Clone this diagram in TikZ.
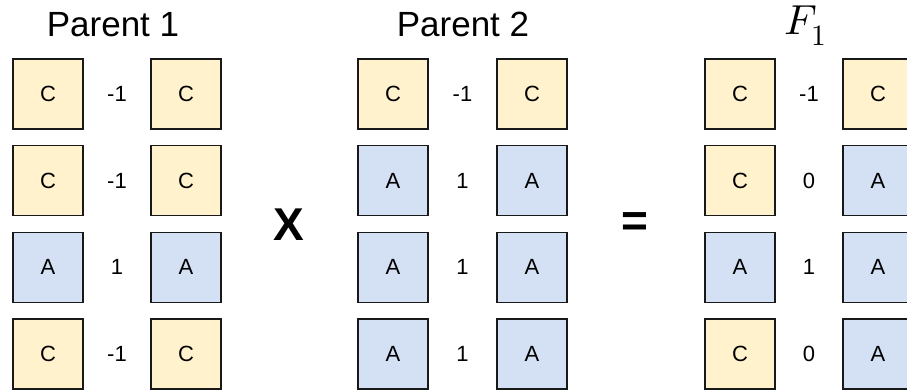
\documentclass[tikz,border=0pt]{standalone}
\usepackage{unicode-math}
\setmainfont{Liberation Sans}
\setmathfont{Latin Modern Math}
\definecolor{celly}{HTML}{FFF2CC}
\definecolor{cellb}{HTML}{D4E1F5}
\tikzset{
  cellbox/.style={draw=black!90, line width=1.5pt, minimum size=70pt, inner sep=0pt,
    font=\fontsize{22}{24}\selectfont},
  cellC/.style={cellbox, fill=celly},
  cellA/.style={cellbox, fill=cellb},
  score/.style={font=\fontsize{22}{24}\selectfont, inner sep=0pt},
  heading/.style={font=\fontsize{35}{38}\selectfont, anchor=base, inner sep=0pt},
  operator/.style={font=\fontsize{46}{50}\selectfont\bfseries, inner sep=0pt}
}
\begin{document}
\begin{tikzpicture}[x=1pt, y=1pt]
  \clip (0,0) rectangle (907,390);
  \fill[white] (0,0) rectangle (907,390);

  % column headings
  \node[heading] (h1) at (113,353.3) {Parent 1};
  \node[heading] (h2) at (463,353.3) {Parent 2};
  \node[font=\fontsize{42}{46}\selectfont, anchor=base, inner sep=0pt] (h3) at (806,355) {$F_1$};

  % each column: left cell, score, right cell per row
  \foreach \g/\xl/\xs/\xr/\rows in {
      p/48/117/186/{C/-1/C,C/-1/C,A/1/A,C/-1/C},
      q/393/462.5/532/{C/-1/C,A/1/A,A/1/A,A/1/A},
      f/740/809/878/{C/-1/C,C/0/A,A/1/A,C/0/A}} {
    \foreach \l/\s/\r [count=\i] in \rows {
      \pgfmathsetmacro{\yy}{296-86.67*(\i-1)}
      \node[cell\l] (\g l\i) at (\xl,\yy) {\l};
      \node[score] (\g s\i) at (\xs,\yy) {\s};
      \node[cell\r] (\g r\i) at (\xr,\yy) {\r};
    }
  }

  % operators between the columns
  \node[operator] (times) at (289,165) {X};
  \node[operator] (equals) at (635,165) {=};
\end{tikzpicture}
\end{document}
